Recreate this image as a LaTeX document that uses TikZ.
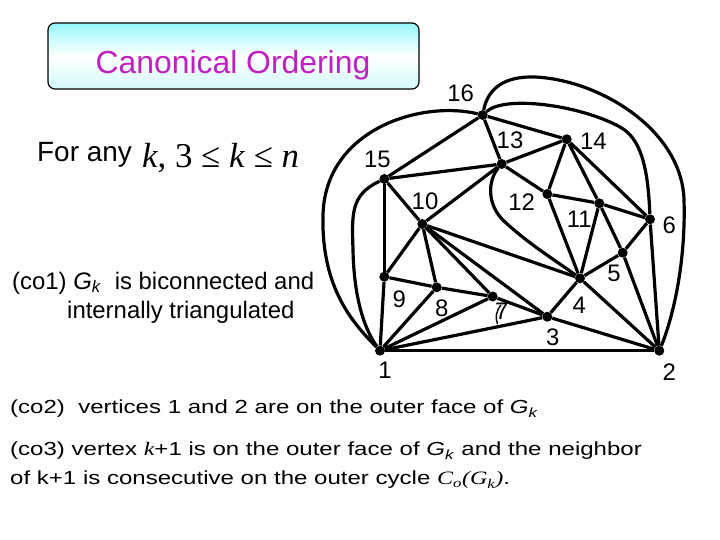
\documentclass[tikz,border=0pt]{standalone}
\usepackage{fontspec}
\setmainfont{Liberation Sans}
\newfontfamily\serifit{Liberation Serif}
\newfontfamily\widesans[FakeStretch=1.27]{Liberation Sans}
\newfontfamily\wideserif[FakeStretch=1.27]{Liberation Serif}
\definecolor{titlecol}{RGB}{192,32,192}
\definecolor{boxtop}{RGB}{150,248,250}
\definecolor{boxbot}{RGB}{210,250,252}
\tikzset{
  vdot/.style={circle,fill=black,inner sep=0pt,minimum size=10bp},
  vlab/.style={font=\fontsize{24}{26}\selectfont,inner sep=0pt},
  edge/.style={line width=3.2bp,line join=round},
  txt/.style={inner sep=0pt,anchor=west}
}
\begin{document}
\begin{tikzpicture}[x=1bp,y=-1bp]
\useasboundingbox (0,0) rectangle (720,540);
% title
\node[draw,rounded corners=7bp,line width=1.2bp,minimum width=371bp,minimum height=66bp,
  top color=boxtop,bottom color=boxbot,middle color=white,inner sep=0pt] (title) at (233.5,56) {};
\node[anchor=base,inner sep=0pt,text=titlecol,font=\fontsize{32}{35}\selectfont] (ttext) at (233,73.3) {Canonical Ordering};
% left texts
\node[txt,font=\fontsize{28}{30}\selectfont] (forany) at (37,155) {For any};
\node[anchor=base west,inner sep=0pt,font=\fontsize{35}{40}\serifit] (cond) at (142,168) {\textit{k}, 3 ≤ \textit{k} ≤ \textit{n}};
\node[txt,font=\fontsize{24}{27}\selectfont] (co1a) at (12,283) {(co1) \textit{G}\textsubscript{\textit{k}}\ \ is biconnected and};
\node[txt,font=\fontsize{24}{27}\selectfont] (co1b) at (67,312) {internally triangulated};
\node[txt,font=\fontsize{19}{22}\widesans] (co2) at (10,409) {(co2)\ \ vertices 1 and 2 are on the outer face of \textit{G}\textsubscript{\textit{k}}};
\node[txt,font=\fontsize{19}{22}\widesans] (co3a) at (10,451) {(co3) vertex {\wideserif\itshape k}+1 is on the outer face of \textit{G}\textsubscript{\textit{k}} and the neighbor};
\node[txt,font=\fontsize{19}{22}\widesans] (co3b) at (10,480) {of k+1 is consecutive on the outer cycle {\wideserif\itshape C\textsubscript{o}(G\textsubscript{k})}.};
% vertices
\node[vdot] (v1) at (380,350.7) {};
\node[vdot] (v2) at (659.3,350.7) {};
\node[vdot] (v3) at (547.3,316.7) {};
\node[vdot] (v4) at (580,278.3) {};
\node[vdot] (v5) at (622.7,252.7) {};
\node[vdot] (v6) at (650,219.3) {};
\node[vdot] (v7) at (492.7,296.5) {};
\node[vdot] (v8) at (436.7,287.3) {};
\node[vdot] (v9) at (384.3,276.7) {};
\node[vdot] (v10) at (422.3,224) {};
\node[vdot] (v11) at (599.3,203.3) {};
\node[vdot] (v12) at (547.3,194) {};
\node[vdot] (v13) at (501.7,164) {};
\node[vdot] (v14) at (566.7,139.3) {};
\node[vdot] (v15) at (384.3,179) {};
\node[vdot] (v16) at (482.7,115) {};
% labels
\node[vlab] (l1) at (385,370) {1};
\node[vlab] (l2) at (669.3,371.7) {2};
\node[vlab] (l3) at (552.7,337.3) {3};
\node[vlab] (l4) at (579.3,305) {4};
\node[vlab] (l5) at (614,273.3) {5};
\node[vlab] (l6) at (669.3,225) {6};
\node[vlab] (l7) at (501.7,311.7) {7};
\node[vlab] (l8) at (441.7,308.3) {8};
\node[vlab] (l9) at (399.3,299.3) {9};
\node[vlab] (l10) at (425,201.7) {10};
\node[vlab] (l11) at (579.3,219.3) {11};
\node[vlab] (l12) at (521.7,201.7) {12};
\node[vlab] (l13) at (510,140.7) {13};
\node[vlab] (l14) at (593.3,141.7) {14};
\node[vlab] (l15) at (377.3,159.3) {15};
\node[vlab] (l16) at (460.7,93.3) {16};
% straight edges
\draw[edge] (v16) -- (v15);
\draw[edge] (v16) -- (v13);
\draw[edge] (v16) -- (v14);
\draw[edge] (v15) -- (v13);
\draw[edge] (v13) -- (v14);
\draw[edge] (v15) -- (v10);
\draw[edge] (v15) -- (v9);
\draw[edge] (v10) -- (v13);
\draw[edge] (v10) -- (v9);
\draw[edge] (v10) -- (v8);
\draw[edge] (v10) -- (v7);
\draw[edge] (v10) -- (v3);
\draw[edge] (v10) -- (v4);
\draw[edge] (v9) -- (v8);
\draw[edge] (v8) -- (v7);
\draw[edge] (v7) -- (v3);
\draw[edge] (v1) -- (v9);
\draw[edge] (v1) -- (v8);
\draw[edge] (v1) -- (v7);
\draw[edge] (v1) -- (v3);
\draw[edge] (v1) -- (v2);
\draw[edge] (v3) -- (v4);
\draw[edge] (v3) -- (v2);
\draw[edge] (v4) -- (v2);
\draw[edge] (v4) -- (v5);
\draw[edge] (v4) -- (v11);
\draw[edge] (v4) -- (v12);
\draw[edge] (v13) -- (v12);
\draw[edge] (v12) -- (v11);
\draw[edge] (v11) -- (v6);
\draw[edge] (v14) -- (v12);
\draw[edge] (v14) -- (v11);
\draw[edge] (v14) -- (v6);
\draw[edge] (v11) -- (v5);
\draw[edge] (v5) -- (v6);
\draw[edge] (v5) -- (v2);
\draw[edge] (v6) -- (v2);
% curved edges
\draw[edge] (v16) .. controls (420,100) and (325,130) .. (323,215)
  .. controls (321,290) and (355,325) .. (v1);
\draw[edge] (v15) .. controls (350,195) and (352,215) .. (353,250)
  .. controls (354,300) and (365,330) .. (v1);
\draw[edge] (v16) .. controls (488,88) and (505,76) .. (535,77)
  .. controls (600,80) and (682,130) .. (684,200)
  .. controls (686,265) and (672,320) .. (v2);
\draw[edge] (v16) .. controls (505,95) and (580,105) .. (620,127)
  .. controls (640,138) and (648,165) .. (v6);
\draw[edge] (v13) .. controls (488,180) and (486,205) .. (505,222)
  .. controls (530,245) and (555,260) .. (v4);
% small arc by label 7
\draw[line width=1.4bp] (501,305) .. controls (496,311) and (495,318) .. (497.5,324);
\end{tikzpicture}
\end{document}
